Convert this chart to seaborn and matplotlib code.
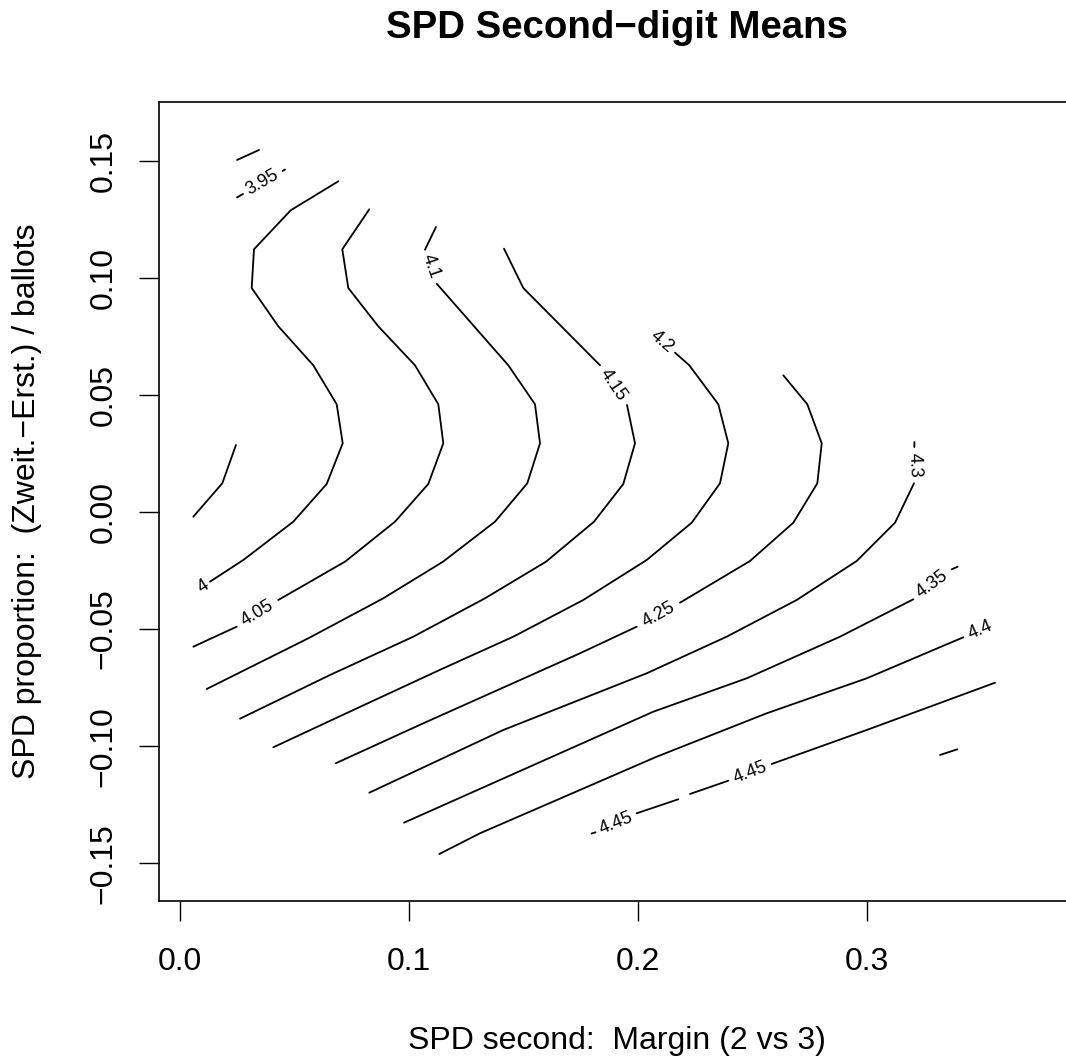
import pandas as pd
import seaborn as sns
import matplotlib.pyplot as plt

# contour pieces (x = margin, y = proportion)
c395_a_x = [0.02489, 0.0345]
c395_a_y = [0.1503, 0.15457]
c395_b1_x = [0.02489, 0.02751]
c395_b1_y = [0.13429, 0.13578]
c395_b2_x = [0.04476, 0.04585]
c395_b2_y = [0.1456, 0.14624]
c395_c_x = [0.00581, 0.01847, 0.02445]
c395_c_y = [-0.00201, 0.01225, 0.02861]

c400_x = [0.0131, 0.02764, 0.04948, 0.06406, 0.07105, 0.06843, 0.05821, 0.04293, 0.03131, 0.03231, 0.04834, 0.06913]
c400_y = [-0.02976, -0.0205, -0.00414, 0.01196, 0.02933, 0.04599, 0.06264, 0.07929, 0.09564, 0.11217, 0.12882, 0.1412]

c405_a_x = [0.00581, 0.02476]
c405_a_y = [-0.05751, -0.04898]
c405_b_x = [0.04293, 0.07205, 0.09389, 0.10843, 0.11498, 0.1128, 0.10262, 0.08659, 0.07349, 0.07087, 0.08266]
c405_b_y = [-0.03757, -0.02122, -0.00414, 0.01196, 0.02933, 0.04599, 0.06264, 0.07929, 0.09564, 0.11217, 0.12925]

c410_a_x = [0.01166, 0.05603, 0.08878, 0.11485, 0.13755, 0.15166, 0.15721, 0.15502, 0.14336, 0.1121]
c410_a_y = [-0.07558, -0.05393, -0.03685, -0.02122, -0.00414, 0.01225, 0.02933, 0.04599, 0.06264, 0.09748]
c410_b_x = [0.10699, 0.11179]
c410_b_y = [0.112, 0.12169]

c415_a_x = [0.0262, 0.0655, 0.10188, 0.13319, 0.15983, 0.18079, 0.19358, 0.19869, 0.1952]
c415_a_y = [-0.08826, -0.0696, -0.05324, -0.03685, -0.02122, -0.00414, 0.01196, 0.02933, 0.04569]
c415_b_x = [0.18341, 0.14991, 0.14148]
c415_b_y = [0.06264, 0.09564, 0.11243]

c420_x = [0.04074, 0.07568, 0.11498, 0.14555, 0.17611, 0.2038, 0.22345, 0.2358, 0.23943, 0.23507, 0.2224, 0.21616]
c420_y = [-0.10047, -0.08454, -0.06674, -0.05324, -0.03757, -0.0205, -0.00457, 0.01225, 0.02933, 0.04599, 0.06264, 0.06802]

c425_a_x = [0.06799, 0.10624, 0.17467, 0.19943]
c425_a_y = [-0.1073, -0.09022, -0.06033, -0.04898]
c425_b_x = [0.21834, 0.24891, 0.26782, 0.2783, 0.28022, 0.27393, 0.26345]
c425_b_y = [-0.03873, -0.02092, -0.00457, 0.01225, 0.02933, 0.04599, 0.05837]

c430_a_x = [0.08266, 0.14118, 0.2038, 0.23873, 0.2693, 0.2955, 0.31223, 0.32052]
c430_a_y = [-0.11985, -0.09308, -0.06887, -0.05324, -0.03757, -0.02092, -0.00457, 0.01225]
c430_b_x = [0.32066, 0.3207]
c430_b_y = [0.02775, 0.02989]

c435_a_x = [0.09782, 0.20668, 0.24747, 0.28821, 0.32022]
c435_a_y = [-0.13266, -0.08527, -0.07101, -0.05324, -0.03728]
c435_b_x = [0.33699, 0.3396]
c435_b_y = [-0.02447, -0.02336]

c440_x = [0.11323, 0.131, 0.20817, 0.2562, 0.29987, 0.34205]
c440_y = [-0.14603, -0.13719, -0.10448, -0.08595, -0.07101, -0.0535]

c445_a_x = [0.1797, 0.18144]
c445_a_y = [-0.13732, -0.13676]
c445_b_x = [0.19943, 0.2176]
c445_b_y = [-0.12865, -0.12267]
c445_c_x = [0.22271, 0.23943]
c445_c_y = [-0.12041, -0.11473]
c445_d_x = [0.25838, 0.29987, 0.3559]
c445_d_y = [-0.1076, -0.09308, -0.07289]
c445_e_x = [0.33188, 0.33943]
c445_e_y = [-0.10376, -0.10132]

# contour labels
label_text = ["3.95", "4", "4.05", "4.1", "4.15", "4.2", "4.25", "4.3", "4.35", "4.4", "4.45", "4.45"]
label_x = [0.03611, 0.01004, 0.03384, 0.10956, 0.1893, 0.21035, 0.20886, 0.32061, 0.3286, 0.34934, 0.19039, 0.24891]
label_y = [0.14069, -0.03202, -0.04325, 0.10474, 0.05414, 0.07259, -0.04385, 0.02007, -0.03087, -0.0506, -0.13271, -0.11114]
label_angle = [30, 33, 31, -71, -56, -41, 29, -88, 36, 23, 22, 21]

x_ticks = [0.0, 0.1, 0.2, 0.3]
x_tick_labels = ["0.0", "0.1", "0.2", "0.3"]
y_ticks = [-0.15, -0.10, -0.05, 0.00, 0.05, 0.10, 0.15]
y_tick_labels = ["\u22120.15", "\u22120.10", "\u22120.05", "0.00", "0.05", "0.10", "0.15"]

pieces = [
    (c395_a_x, c395_a_y), (c395_b1_x, c395_b1_y), (c395_b2_x, c395_b2_y), (c395_c_x, c395_c_y),
    (c400_x, c400_y),
    (c405_a_x, c405_a_y), (c405_b_x, c405_b_y),
    (c410_a_x, c410_a_y), (c410_b_x, c410_b_y),
    (c415_a_x, c415_a_y), (c415_b_x, c415_b_y),
    (c420_x, c420_y),
    (c425_a_x, c425_a_y), (c425_b_x, c425_b_y),
    (c430_a_x, c430_a_y), (c430_b_x, c430_b_y),
    (c435_a_x, c435_a_y), (c435_b_x, c435_b_y),
    (c440_x, c440_y),
    (c445_a_x, c445_a_y), (c445_b_x, c445_b_y), (c445_c_x, c445_c_y), (c445_d_x, c445_d_y), (c445_e_x, c445_e_y),
]
rows = []
for i, (xs, ys) in enumerate(pieces):
    for xv, yv in zip(xs, ys):
        rows.append({"x": xv, "y": yv, "seg": i})
df = pd.DataFrame(rows)

sns.set_style("ticks")
plt.rcParams["font.family"] = ["Liberation Sans", "DejaVu Sans"]
plt.rcParams["axes.edgecolor"] = "black"
plt.rcParams["axes.labelcolor"] = "black"
plt.rcParams["text.color"] = "black"
plt.rcParams["xtick.color"] = "black"
plt.rcParams["ytick.color"] = "black"

fig = plt.figure(figsize=(10.66, 10.56), dpi=100)
ax = fig.add_axes([0.14962, 0.14678, 0.85835, 0.75663])

sns.lineplot(data=df, x="x", y="y", units="seg", estimator=None, sort=False,
             color="black", linewidth=1.3, ax=ax)

for t, xv, yv, a in zip(label_text, label_x, label_y, label_angle):
    ax.text(xv, yv, t, fontsize=13, rotation=a, ha="center", va="center",
            rotation_mode="anchor", color="black")

ax.set_xlim(-0.00895, 0.3906)
ax.set_ylim(-0.1661, 0.17506)
ax.set_xticks(x_ticks, labels=x_tick_labels)
ax.set_yticks(y_ticks, labels=y_tick_labels, rotation=90, va="center")
ax.tick_params(axis="both", direction="out", length=14.4, width=1.0, labelsize=23)
ax.tick_params(axis="x", pad=19)
ax.tick_params(axis="y", pad=15)
for s in ax.spines.values():
    s.set_linewidth(1.2)
    s.set_color("black")

ax.set_xlabel("SPD second:  Margin (2 vs 3)", fontsize=23)
ax.xaxis.set_label_coords(0.5, -0.1853)
ax.xaxis.label.set_va("baseline")
ax.set_ylabel("SPD proportion:  (Zweit.\u2212Erst.) / ballots", fontsize=23)
ax.yaxis.set_label_coords(-0.1448, 0.5)
ax.yaxis.label.set_va("center")

ax.set_title("SPD Second\u2212digit Means", fontsize=27.6, fontweight="bold",
             y=1.080, pad=0, va="baseline", color="black")

fig.savefig("out.png", dpi=100)
